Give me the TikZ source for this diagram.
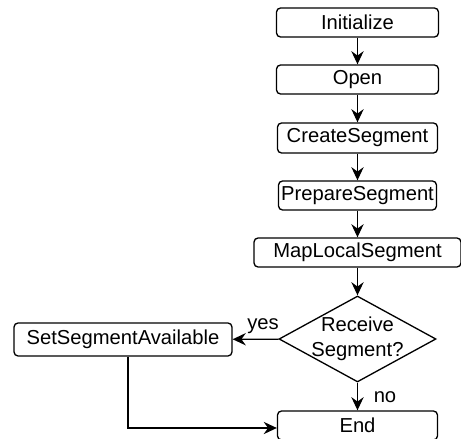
\documentclass[tikz,border=0pt]{standalone}
\usepackage{fontspec}
\setmainfont{Liberation Sans}
\usetikzlibrary{arrows.meta,shapes.geometric}

\tikzset{
  stepbox/.style={draw, line width=0.75pt, rounded corners=2.3pt, minimum height=0.58cm,
    inner sep=0pt, font=\fontsize{11.5}{14}\selectfont},
  decision/.style={draw, line width=0.75pt, diamond, shape aspect=1.83, minimum width=3.14cm,
    minimum height=1.72cm, inner sep=-2pt, align=center,
    font=\fontsize{11.5}{14.5}\selectfont},
  flow/.style={-{Stealth[length=7.5pt,width=7pt,inset=2.5pt]}, line width=0.75pt},
  flowlabel/.style={inner sep=0pt, font=\fontsize{11.5}{14}\selectfont}
}

\begin{document}
\begin{tikzpicture}[x=0.02cm,y=-0.02cm]

\useasboundingbox (0,0) rectangle (461,439);

% Main chain
\node[stepbox, minimum width=3.24cm] (init) at (357.5,22.5) {Initialize};
\node[stepbox, minimum width=3.24cm] (open) at (357.5,79.5) {Open};
\node[stepbox, minimum width=3.2cm, minimum height=0.6cm] (create) at (357.5,138) {CreateSegment};
\node[stepbox, minimum width=3.16cm] (prepare) at (357.5,195.5) {PrepareSegment};
\node[stepbox, minimum width=4.14cm] (map) at (357.5,252.5) {MapLocalSegment};

% Decision and its branches
\node[decision] (recv) at (357.5,339) {Receive\\Segment?};
\node[stepbox, minimum width=4.36cm, minimum height=0.66cm] (avail) at (123,339.5) {SetSegmentAvailable};
\node[stepbox, minimum width=3.2cm] (end) at (357.5,425.5) {End};

% Arrows
\draw[flow] (init) -- (open);
\draw[flow] (open) -- (create);
\draw[flow] (create) -- (prepare);
\draw[flow] (prepare) -- (map);
\draw[flow] (map) -- (recv);
\draw[flow] (recv) -- (avail);
\draw[flow] (recv) -- (end);
\draw[flow] ([xshift=0.1cm]avail.south) |- ([yshift=-0.05cm]end.west);

% Branch labels
\node[flowlabel] (yes) at (263,326) {yes};
\node[flowlabel] (no) at (385,397) {no};

\end{tikzpicture}
\end{document}
